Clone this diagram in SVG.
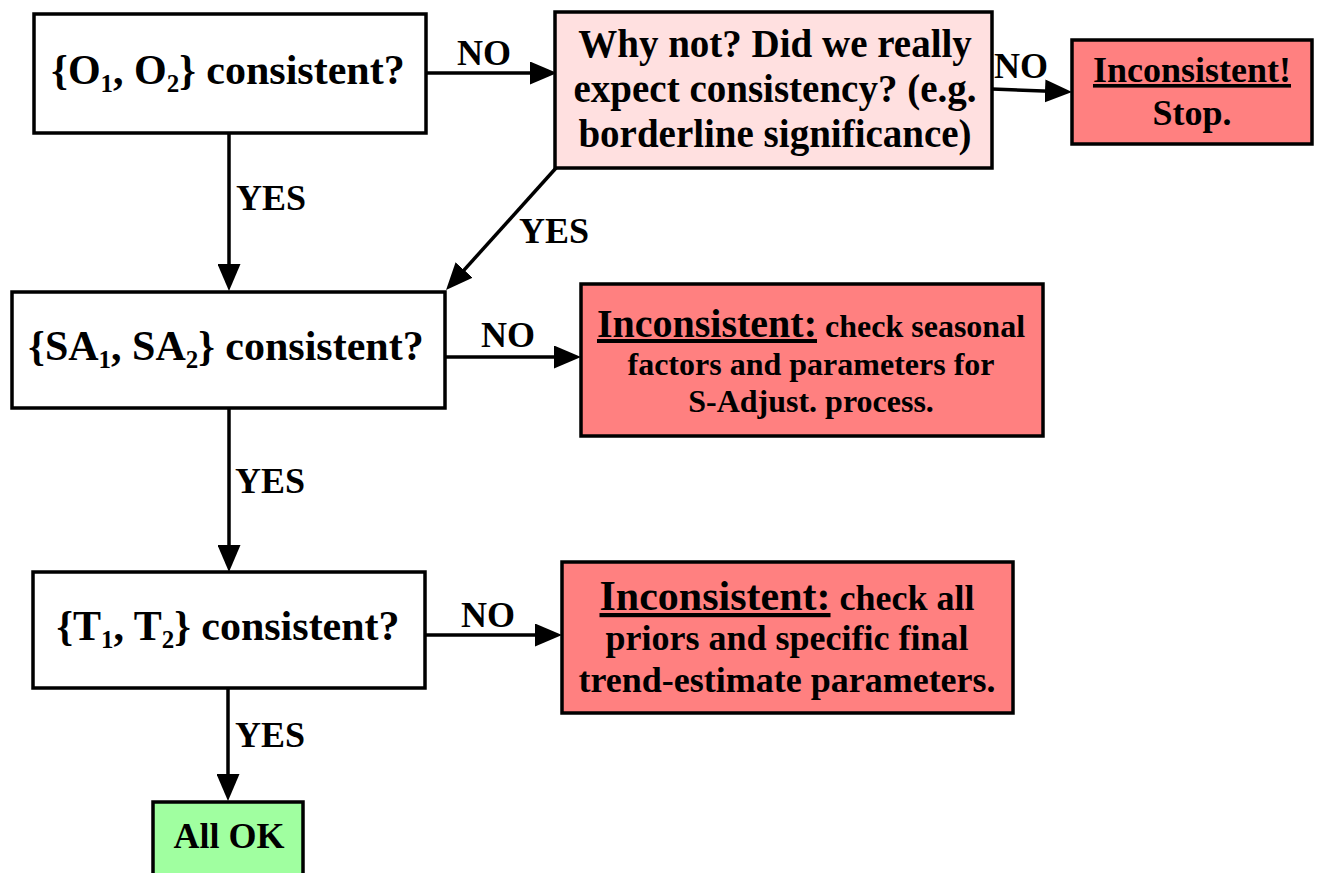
<svg xmlns="http://www.w3.org/2000/svg" width="1318" height="873" viewBox="0 0 1318 873">
<defs>
<style>
text{font-family:"Liberation Serif","Times New Roman",serif;font-weight:bold;fill:#000}
.box{stroke:#000;stroke-width:3.5}
.q{font-size:42px;text-anchor:middle}
.lbl{font-size:36px}
.conn{stroke:#000;stroke-width:3.5;fill:none;marker-end:url(#ah)}
.u{text-decoration:underline}
</style>
<marker id="ah" markerUnits="userSpaceOnUse" markerWidth="27" markerHeight="23" viewBox="0 0 27 23" refX="19" refY="11.5" orient="auto">
<path d="M0,0 L27,11.5 L0,23 z" fill="#000"/>
</marker>
</defs>
<rect width="1318" height="873" fill="#fff"/>
<g id="connectors">
<line class="conn" x1="426" y1="73" x2="549" y2="73"/>
<line class="conn" x1="992" y1="89" x2="1064" y2="91.7"/>
<line class="conn" x1="229" y1="133" x2="229" y2="283"/>
<line class="conn" x1="556" y1="168" x2="451.4" y2="284.1"/>
<line class="conn" x1="445" y1="357" x2="573" y2="357"/>
<line class="conn" x1="229" y1="408" x2="229" y2="564"/>
<line class="conn" x1="425" y1="635" x2="554" y2="635"/>
<line class="conn" x1="228" y1="688" x2="228" y2="793"/>
<text class="lbl" x="484" y="65" text-anchor="middle">NO</text>
<text class="lbl" x="1021" y="78" text-anchor="middle">NO</text>
<text class="lbl" x="508" y="347" text-anchor="middle">NO</text>
<text class="lbl" x="488" y="627" text-anchor="middle">NO</text>
<text class="lbl" x="236" y="210">YES</text>
<text class="lbl" x="519" y="243">YES</text>
<text class="lbl" x="235" y="493">YES</text>
<text class="lbl" x="235" y="747">YES</text>
</g>
<g id="q1">
<rect class="box" x="34" y="14" width="392" height="119" fill="#fff"/>
<text class="q" x="228" y="84">{O<tspan font-size="25" dy="8">1</tspan><tspan dy="-8">, O</tspan><tspan font-size="25" dy="8">2</tspan><tspan dy="-8">} consistent?</tspan></text>
</g>
<g id="whynot">
<rect class="box" x="555" y="12" width="437" height="156" fill="#ffe0e0"/>
<text x="775" y="57" font-size="39" text-anchor="middle">Why not? Did we really</text>
<text x="775" y="102" font-size="39" text-anchor="middle">expect consistency? (e.g.</text>
<text x="775" y="147" font-size="39" text-anchor="middle">borderline significance)</text>
</g>
<g id="stop">
<rect class="box" x="1072" y="40" width="240" height="104" fill="#ff8080"/>
<text x="1192" y="82" font-size="36" text-anchor="middle" class="u">Inconsistent!</text>
<text x="1192" y="125" font-size="36" text-anchor="middle">Stop.</text>
</g>
<g id="q2">
<rect class="box" x="12" y="292" width="433" height="116" fill="#fff"/>
<text class="q" x="226" y="360">{SA<tspan font-size="25" dy="8">1</tspan><tspan dy="-8">, SA</tspan><tspan font-size="25" dy="8">2</tspan><tspan dy="-8">} consistent?</tspan></text>
</g>
<g id="sa-fail">
<rect class="box" x="581" y="284" width="462" height="152" fill="#ff8080"/>
<text x="811" y="337" font-size="32" text-anchor="middle"><tspan font-size="40" class="u">Inconsistent:</tspan> check seasonal</text>
<text x="811" y="375" font-size="32" text-anchor="middle">factors and parameters for</text>
<text x="811" y="412" font-size="32" text-anchor="middle">S-Adjust. process.</text>
</g>
<g id="q3">
<rect class="box" x="33" y="572" width="392" height="116" fill="#fff"/>
<text class="q" x="228" y="640">{T<tspan font-size="25" dy="8">1</tspan><tspan dy="-8">, T</tspan><tspan font-size="25" dy="8">2</tspan><tspan dy="-8">} consistent?</tspan></text>
</g>
<g id="t-fail">
<rect class="box" x="562" y="562" width="451" height="151" fill="#ff8080"/>
<text x="787" y="610" font-size="36" text-anchor="middle"><tspan font-size="42" class="u">Inconsistent:</tspan> check all</text>
<text x="787" y="650" font-size="36" text-anchor="middle">priors and specific final</text>
<text x="787" y="692" font-size="36" text-anchor="middle">trend-estimate parameters.</text>
</g>
<g id="allok">
<rect class="box" x="153" y="802" width="150" height="80" fill="#a0ffa0"/>
<text x="229" y="848" font-size="36" text-anchor="middle">All OK</text>
</g>
</svg>
